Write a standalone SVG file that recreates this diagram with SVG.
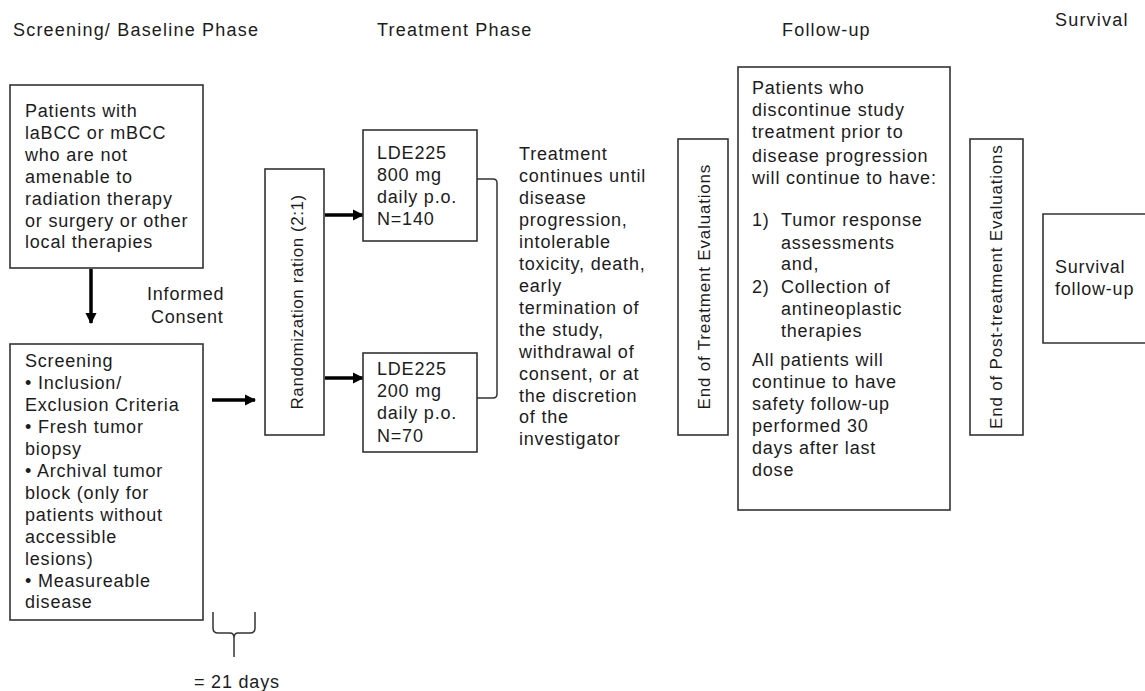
<svg xmlns="http://www.w3.org/2000/svg" width="1145" height="691" viewBox="0 0 1145 691">
<defs>
<style>
text{font-family:"Liberation Sans",Arial,sans-serif;font-size:18px;letter-spacing:0.8px;fill:#1c1c1c}
.hdr{letter-spacing:1.2px}
.rot{font-size:17px;letter-spacing:0.2px}
.box{fill:#fff;stroke:#333;stroke-width:1.6}
.arrow{stroke:#000;stroke-width:3.5;fill:none;marker-end:url(#ah)}
.thin{stroke:#333;stroke-width:1.5;fill:none}
</style>
<marker id="ah" viewBox="0 0 10 10" refX="9" refY="5" markerWidth="3.2" markerHeight="3.2" orient="auto" markerUnits="strokeWidth">
<path d="M0,0 L10,5 L0,10 z" fill="#000"/>
</marker>
</defs>
<rect width="1145" height="691" fill="#fff"/>

<g id="headers">
<text class="hdr" x="13" y="36">Screening/ Baseline Phase</text>
<text class="hdr" x="377" y="36">Treatment Phase</text>
<text class="hdr" x="782" y="36">Follow-up</text>
<text class="hdr" x="1055" y="26">Survival</text>
</g>

<g id="connectors">
<line class="arrow" x1="91" y1="269" x2="91" y2="323"/>
<line class="arrow" x1="212" y1="400" x2="255" y2="400"/>
<line class="arrow" x1="325" y1="215" x2="363" y2="215"/>
<line class="arrow" x1="325" y1="378" x2="363" y2="378"/>
<path class="thin" d="M477,179 H493 Q497,179 497,183 V394 Q497,398 493,398 H477"/>
<path class="thin" d="M213,612 V628 Q213,633 218,633 H230 Q234,633 234,638 V657 M255,612 V628 Q255,633 250,633 H238 Q234,633 234,638"/>
</g>

<g id="patients">
<rect class="box" x="10" y="85" width="193" height="183"/>
<text x="25" y="117">Patients with</text>
<text x="25" y="139">laBCC or mBCC</text>
<text x="25" y="161">who are not</text>
<text x="25" y="183">amenable to</text>
<text x="25" y="205">radiation therapy</text>
<text x="25" y="227">or surgery or other</text>
<text x="25" y="248">local therapies</text>
</g>

<g id="consent">
<text x="147" y="300">Informed</text>
<text x="151" y="323">Consent</text>
</g>

<g id="screening">
<rect class="box" x="10" y="344" width="193" height="276"/>
<text x="25" y="367">Screening</text>
<text x="25" y="389">• Inclusion/</text>
<text x="25" y="411">Exclusion Criteria</text>
<text x="25" y="433">• Fresh tumor</text>
<text x="25" y="455">biopsy</text>
<text x="25" y="477">• Archival tumor</text>
<text x="25" y="499">block (only for</text>
<text x="25" y="521">patients without</text>
<text x="25" y="543">accessible</text>
<text x="25" y="565">lesions)</text>
<text x="25" y="587">• Measureable</text>
<text x="25" y="608">disease</text>
</g>

<g id="days">
<text x="194" y="688">= 21 days</text>
</g>

<g id="randomization">
<rect class="box" x="265" y="169" width="59" height="266"/>
<text class="rot" transform="translate(303,302) rotate(-90)" text-anchor="middle" textLength="215">Randomization ration (2:1)</text>
</g>

<g id="dose800">
<rect class="box" x="363" y="130" width="114" height="111"/>
<text x="377" y="159">LDE225</text>
<text x="377" y="181">800 mg</text>
<text x="377" y="203">daily p.o.</text>
<text x="377" y="225">N=140</text>
</g>

<g id="dose200">
<rect class="box" x="363" y="353" width="114" height="99"/>
<text x="377" y="375">LDE225</text>
<text x="377" y="397">200 mg</text>
<text x="377" y="419">daily p.o.</text>
<text x="377" y="442">N=70</text>
</g>

<g id="treatment-text">
<text x="519" y="160">Treatment</text>
<text x="519" y="182">continues until</text>
<text x="519" y="204">disease</text>
<text x="519" y="226">progression,</text>
<text x="519" y="248">intolerable</text>
<text x="519" y="270">toxicity, death,</text>
<text x="519" y="292">early</text>
<text x="519" y="314">termination of</text>
<text x="519" y="336">the study,</text>
<text x="519" y="358">withdrawal of</text>
<text x="519" y="380">consent, or at</text>
<text x="519" y="402">the discretion</text>
<text x="519" y="423">of the</text>
<text x="519" y="445">investigator</text>
</g>

<g id="end-treatment">
<rect class="box" x="678" y="139" width="50" height="296"/>
<text class="rot" transform="translate(710,287) rotate(-90)" text-anchor="middle" textLength="245">End of Treatment Evaluations</text>
</g>

<g id="followup">
<rect class="box" x="738" y="67" width="212" height="443"/>
<text x="752" y="94">Patients who</text>
<text x="752" y="116">discontinue study</text>
<text x="752" y="138">treatment prior to</text>
<text x="752" y="162">disease progression</text>
<text x="752" y="184">will continue to have:</text>
<text x="752" y="226">1)</text><text x="781" y="226">Tumor response</text>
<text x="781" y="249">assessments</text>
<text x="781" y="270">and,</text>
<text x="752" y="293">2)</text><text x="781" y="293">Collection of</text>
<text x="781" y="315">antineoplastic</text>
<text x="781" y="337">therapies</text>
<text x="752" y="366">All patients will</text>
<text x="752" y="388">continue to have</text>
<text x="752" y="410">safety follow-up</text>
<text x="752" y="432">performed 30</text>
<text x="752" y="454">days after last</text>
<text x="752" y="476">dose</text>
</g>

<g id="end-post">
<rect class="box" x="970" y="139" width="53" height="296"/>
<text class="rot" transform="translate(1002,287) rotate(-90)" text-anchor="middle" textLength="284">End of Post-treatment Evaluations</text>
</g>

<g id="survival">
<path class="box" d="M1150,214 H1043 V343 H1150"/>
<text x="1055" y="273">Survival</text>
<text x="1055" y="295">follow-up</text>
</g>
</svg>
